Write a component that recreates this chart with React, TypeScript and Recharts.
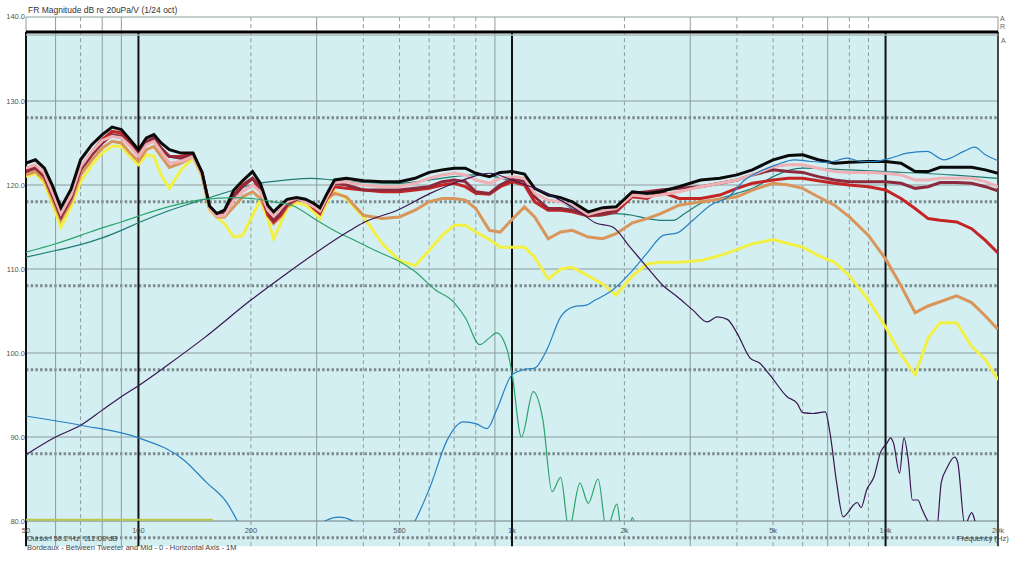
import { LineChart, Line, XAxis, YAxis, ReferenceLine, ReferenceArea } from 'recharts';

// frequency grid shared by the smoothed (1/24 oct) off-axis curves
const bundleFreq = [
  50, 53, 56, 59, 62, 66, 70, 75, 80, 85,
  90, 95, 100, 105, 110, 115, 121, 130, 140, 148,
  155, 162, 170, 180, 190, 202, 212, 222, 230, 240,
  250, 265, 280, 295, 306, 320, 335, 360, 400, 450,
  500, 550, 600, 650, 700, 750, 800, 870, 930, 1000,
  1080, 1150, 1250, 1350, 1450, 1600, 1750, 1900, 2100, 2300,
  2500, 2800, 3200, 3600, 4000, 4400, 5000, 5500, 6000, 6600,
  7300, 8000, 9000, 10000, 11000, 12000, 13000, 14000, 15500, 17000,
  18500, 20000,
];

const blackDb = [
  122.6, 123.0, 122.0, 119.8, 117.3, 119.5, 123.0, 124.8, 126.0, 126.9,
  126.6, 125.4, 124.2, 125.6, 126.0, 125.0, 124.2, 123.8, 123.8, 121.5,
  117.5, 116.6, 117.0, 119.4, 120.5, 121.6, 120.2, 117.6, 116.8, 117.6,
  118.3, 118.5, 118.3, 117.8, 117.3, 119.0, 120.6, 120.8, 120.5, 120.4,
  120.4, 120.8, 121.5, 121.8, 122.0, 122.0, 121.4, 121.0, 121.5, 121.6,
  121.3, 119.6, 118.8, 118.5, 118.0, 116.8, 117.3, 117.4, 119.2, 119.0,
  119.2, 119.8, 120.6, 120.8, 121.2, 121.8, 123.0, 123.5, 123.6, 123.0,
  122.6, 122.7, 122.8, 122.8, 122.6, 121.6, 121.6, 122.1, 122.1, 122.1,
  121.8, 121.4,
];

const pinkDb = [
  122.0, 122.4, 121.4, 119.0, 116.6, 118.8, 122.2, 124.0, 125.3, 125.8,
  125.6, 124.6, 123.4, 124.8, 125.2, 124.0, 122.6, 122.8, 123.4, 121.2,
  117.2, 116.3, 116.4, 118.2, 119.2, 120.0, 119.2, 117.0, 116.3, 117.2,
  118.0, 118.4, 118.0, 117.4, 116.9, 118.6, 120.3, 120.4, 120.0, 119.8,
  119.8, 120.2, 120.8, 121.2, 121.4, 121.2, 120.6, 120.2, 120.8, 121.0,
  120.8, 119.0, 118.2, 118.0, 117.5, 116.5, 117.0, 117.2, 118.8, 118.6,
  118.8, 119.2, 119.8, 120.2, 120.6, 121.2, 122.2, 122.4, 122.4, 122.0,
  121.6, 121.5, 121.5, 121.4, 121.2, 120.6, 120.6, 120.8, 120.8, 120.8,
  120.4, 119.8,
];

const maroonDb = [
  121.6, 122.0, 121.0, 118.6, 116.2, 118.4, 121.8, 123.6, 125.0, 126.0,
  125.8, 124.8, 123.6, 125.2, 125.6, 124.4, 123.4, 123.2, 123.6, 121.4,
  117.3, 116.4, 116.6, 118.6, 119.8, 120.8, 119.8, 116.8, 115.8, 116.6,
  117.8, 118.3, 118.1, 117.4, 116.8, 118.6, 120.2, 120.0, 119.4, 119.4,
  119.4, 119.6, 119.8, 120.4, 120.6, 120.4, 119.2, 119.0, 120.0, 120.7,
  120.4, 118.6, 117.2, 117.2, 117.0, 116.4, 116.6, 117.0, 119.0, 119.2,
  119.4, 119.6, 119.8, 120.2, 120.6, 121.2, 121.8, 121.6, 121.5, 121.0,
  120.6, 120.4, 120.4, 120.4, 120.2, 119.6, 119.8, 120.3, 120.3, 120.2,
  119.8, 119.3,
];

const redDb = [
  121.8, 122.2, 121.2, 118.8, 116.5, 118.6, 122.0, 123.9, 125.4, 126.4,
  126.2, 125.0, 123.8, 125.0, 125.4, 124.2, 123.4, 123.4, 123.7, 121.5,
  117.4, 116.5, 116.8, 118.8, 120.0, 120.8, 119.4, 116.4, 115.6, 116.4,
  117.6, 118.4, 118.2, 117.2, 116.6, 118.4, 119.8, 119.6, 119.4, 119.2,
  119.2, 119.4, 119.6, 120.0, 120.2, 119.8, 119.0, 118.9, 119.8, 120.4,
  120.0, 118.0, 117.0, 117.0, 116.8, 116.3, 116.5, 116.8, 118.6, 118.4,
  119.2, 118.4, 118.4, 118.8, 119.6, 120.2, 120.6, 120.8, 120.8, 120.5,
  120.2, 120.0, 119.8, 119.4, 118.4, 117.2, 116.0, 115.8, 115.6, 114.8,
  113.4, 111.9,
];

const tanDb = [
  121.2, 121.6, 120.6, 118.2, 115.8, 118.0, 121.2, 123.0, 124.4, 125.2,
  125.0, 123.8, 122.8, 124.2, 124.6, 123.4, 122.1, 122.6, 123.4, 121.2,
  117.2, 116.2, 116.2, 117.4, 118.6, 119.2, 118.4, 116.6, 115.4, 116.2,
  117.4, 118.2, 118.2, 117.6, 117.0, 118.4, 119.0, 118.6, 116.4, 116.0,
  116.2, 117.0, 118.0, 118.4, 118.4, 118.2, 117.2, 114.6, 114.4, 115.9,
  117.4, 116.2, 113.6, 114.4, 114.6, 113.8, 113.6, 114.2, 115.5, 116.0,
  116.6, 117.6, 118.0, 118.3, 118.6, 119.4, 120.2, 120.0, 119.6, 118.6,
  117.6, 116.2, 114.0, 111.2, 108.0, 104.8, 105.6, 106.1, 106.8, 106.0,
  104.4, 102.8,
];

const yellowDb = [
  121.0, 121.4, 120.2, 117.6, 115.0, 117.4, 120.4, 122.4, 123.8, 124.6,
  124.6, 123.4, 122.4, 123.6, 123.4, 121.2, 119.6, 121.8, 123.2, 121.0,
  117.0, 116.2, 115.4, 113.8, 114.0, 116.4, 118.2, 116.0, 113.6, 115.4,
  117.2, 117.9, 117.6, 116.8, 116.0, 118.0, 119.2, 118.4, 116.2, 113.0,
  111.0, 110.4, 112.2, 114.0, 115.2, 115.2, 114.4, 113.5, 112.6, 112.6,
  112.6, 111.4, 108.8, 110.0, 110.2, 109.2, 108.2, 106.9, 109.2, 110.6,
  110.8, 110.8, 111.0, 111.6, 112.3, 113.0, 113.5, 113.0, 112.6, 111.6,
  110.8, 109.2, 106.3, 103.1, 99.8, 97.4, 101.8, 103.6, 103.6, 100.8,
  99.2, 96.8,
];

// summed response (teal)
const sumFreq = [
  50, 60, 70, 80, 90, 100, 120, 150, 180, 200, 250, 290, 330, 400, 500, 600, 700, 800, 900, 1000,
  1100, 1200, 1300, 1400, 1550, 1700, 1900, 2100, 2300, 2500, 2700, 2900, 3200, 3600, 4000, 4500,
  5000, 6000, 8000, 10000, 15000, 20000,
];
const sumDb = [
  111.4, 112.2, 112.9, 113.7, 114.6, 115.5, 116.9, 118.3, 119.4, 120.0, 120.6, 120.8, 120.6, 120.3,
  120.2, 120.6, 121.0, 121.2, 121.0, 120.4, 119.8, 119.3, 118.6, 117.6, 116.5, 116.3, 116.6, 116.4,
  116.0, 115.8, 115.8, 116.6, 117.8, 118.4, 119.0, 119.8, 121.0, 122.0, 121.8, 121.6, 121.2, 120.8,
];

// mid driver (green)
const midFreq = [
  50, 60, 70, 80, 90, 100, 120, 150, 180, 200, 230, 260, 300, 340, 380, 430, 500, 550, 620, 700,
  750, 820, 870, 909, 970, 1000, 1060, 1140, 1210, 1280, 1350, 1420, 1520, 1600, 1700, 1790, 1910,
  1960, 2040, 2100, 2160, 2400,
];
const midDb = [
  112.0, 113.0, 114.0, 114.9, 115.6, 116.3, 117.4, 118.3, 118.5, 118.4, 118.0, 117.5, 115.8, 114.4,
  113.4, 112.2, 110.9, 109.7, 107.6, 106.0, 104.2, 101.0, 101.8, 102.4, 100.4, 97.6, 90.0, 95.4,
  92.0, 83.5, 85.2, 79.0, 84.5, 82.1, 85.0, 79.0, 82.0, 79.0, 78.5, 80.4, 78.5, 75.0,
];

// woofer (purple)
const wooferFreq = [
  50, 60, 70, 80, 90, 100, 120, 150, 200, 250, 300, 369, 400, 493, 604, 740, 873, 1000, 1240, 1520,
  1670, 1860, 2070, 2300, 2540, 2770, 3050, 3330, 3540, 3770, 4000, 4340, 4600, 4900, 5450, 5800,
  6000, 6400, 6900, 7100, 7400, 7700, 7900, 8200, 8400, 8600, 8900, 9300, 9700, 10100, 10300, 10500,
  10900, 11200, 11500, 11800, 12200, 12500, 12900, 13700, 14100, 14600, 15300, 15600, 16300, 17000,
  17200, 17800,
];
const wooferDb = [
  87.9, 90.0, 91.4, 93.2, 94.8, 96.1, 98.6, 101.8, 106.3, 109.5, 112.0, 114.6, 115.5, 117.0, 119.0,
  120.6, 121.4, 120.6, 119.0, 116.8, 115.5, 115.0, 112.6, 110.2, 108.0, 106.7, 105.1, 103.7, 104.3,
  104.0, 102.4, 99.4, 98.8, 97.4, 94.8, 94.0, 92.9, 92.8, 93.0, 90.5, 84.5, 80.5, 80.9, 81.9, 82.2,
  81.6, 83.7, 85.2, 88.2, 89.3, 89.9, 89.3, 85.7, 89.9, 87.3, 82.5, 82.5, 81.5, 80.2, 79.0, 84.6,
  86.3, 87.6, 87.0, 79.5, 81.0, 80.6, 77.0,
];

// tweeter (blue)
const tweeterFreq = [
  50, 70, 100, 132, 152, 173, 184, 200, 240, 290, 316, 344, 375, 410, 460, 510, 550, 603, 670, 740,
  800, 858, 909, 1000, 1070, 1150, 1240, 1350, 1460, 1580, 1670, 1860, 2070, 2300, 2540, 2770, 3050,
  3400, 3800, 4200, 4600, 5100, 5700, 6300, 7000, 7900, 8600, 9300, 10500, 11400, 12900, 14300,
  16200, 17300, 18500, 20000,
];
const tweeterDb = [
  92.5, 91.4, 89.9, 87.3, 84.6, 82.1, 80.0, 77.0, 72.0, 77.5, 80.0, 80.45, 80.0, 77.0, 75.0, 77.5,
  80.0, 84.0, 89.6, 91.8, 91.6, 91.0, 93.2, 97.4, 98.0, 98.2, 100.4, 104.3, 105.5, 105.7, 106.3,
  107.5, 109.5, 111.9, 114.0, 114.3, 115.8, 117.6, 118.6, 120.6, 121.6, 122.4, 123.0, 122.8, 122.7,
  123.2, 122.8, 122.8, 123.3, 123.8, 124.0, 123.0, 124.0, 124.5, 123.6, 122.9,
];

const floorFreq = [50, 158];
const floorDb = [80.15, 80.15];

const xTicks = [50, 100, 200, 500, 1000, 2000, 5000, 10000, 20000];
const xTickLabels = ['50', '100', '200', '500', '1k', '2k', '5k', '10k', '20k'];
const yTicks = [80, 90, 100, 110, 120, 130, 140];
const dottedLevels = [128, 118, 108, 98, 88, 78];
const solidMinor = [60, 80, 90, 300, 900, 3000, 7000];
const dashedMinor = [70, 200, 400, 500, 600, 700, 800, 2000, 4000, 5000, 6000, 8000, 9000];
const decadeLines = [100, 1000, 10000];

const FONT = '"Liberation Sans", Arial, sans-serif';
const GRID = '#8d9c9e';

const toPoints = (freqs: number[], dbs: number[]) => freqs.map((f, i) => ({ f, v: dbs[i] }));

const XTick = ({ x, payload }: any) => {
  const i = xTicks.indexOf(payload.value);
  return (
    <text x={x} y={530} textAnchor="middle" dominantBaseline="central" fontSize={7.5} fill="#555" fontFamily={FONT}>
      {xTickLabels[i]}
    </text>
  );
};

const YTick = ({ y, payload }: any) => (
  <text x={25} y={payload.value === 140 ? y - 1 : y} textAnchor="end" dominantBaseline="central" fontSize={7.5} fill="#555" fontFamily={FONT}>
    {Number(payload.value).toFixed(1)}
  </text>
);

const bundle = [
  { name: 'yellow', db: yellowDb, color: '#f2f045' },
  { name: 'tan', db: tanDb, color: '#d9955a' },
  { name: 'red', db: redDb, color: '#c42424' },
  { name: 'maroon', db: maroonDb, color: '#8e2a3c' },
  { name: 'pink', db: pinkDb, color: '#eeb2b6' },
  { name: 'black', db: blackDb, color: '#0a0a0a' },
];

// thin curves drawn over the bundle
const thin = [
  { name: 'floor', f: floorFreq, db: floorDb, color: '#bcc84c', width: 2 },
  { name: 'mid', f: midFreq, db: midDb, color: '#2ca36c', width: 1.2 },
  { name: 'woofer', f: wooferFreq, db: wooferDb, color: '#3a1652', width: 1.2 },
  { name: 'tweeter', f: tweeterFreq, db: tweeterDb, color: '#2680c4', width: 1.2 },
];

const textStyle = { position: 'absolute' as const, fontFamily: FONT, color: '#444', whiteSpace: 'nowrap' as const };

export default function App() {
  return (
    <div style={{ position: 'fixed', left: 0, top: 0, width: 1024, height: 561, background: '#fff', overflow: 'hidden' }}>
      <LineChart width={1024} height={561} margin={{ top: 17, right: 26, bottom: 0, left: 0 }}>
        <XAxis
          dataKey="f"
          type="number"
          scale="log"
          domain={[50, 20000]}
          allowDataOverflow
          ticks={xTicks}
          interval={0}
          height={40}
          axisLine={false}
          tickLine={false}
          tick={<XTick />}
        />
        <YAxis
          type="number"
          domain={[80, 140]}
          allowDataOverflow
          ticks={yTicks}
          interval={0}
          width={26}
          axisLine={false}
          tickLine={false}
          tick={<YTick />}
        />

        <ReferenceArea x1={50} x2={20000} y1={77} y2={137.8} fill="#d3eff2" fillOpacity={1} stroke="none" ifOverflow="visible" zIndex={-300} />

        {yTicks.map((v) => (
          <ReferenceLine key={`h${v}`} y={v} stroke={v === 80 ? '#6f7d7f' : GRID} strokeWidth={1} ifOverflow="visible" zIndex={-200} />
        ))}
        {dottedLevels.map((v) => (
          <ReferenceLine key={`d${v}`} y={v} stroke="#7c8b8d" strokeWidth={3} strokeDasharray="2.5 2.2" ifOverflow="visible" zIndex={-200} />
        ))}
        {solidMinor.map((f) => (
          <ReferenceLine key={`s${f}`} segment={[{ x: f, y: 77 }, { x: f, y: 140 }]} stroke={GRID} strokeWidth={1} ifOverflow="visible" zIndex={-200} />
        ))}
        {dashedMinor.map((f) => (
          <ReferenceLine key={`m${f}`} segment={[{ x: f, y: 77 }, { x: f, y: 140 }]} stroke={GRID} strokeWidth={1} strokeDasharray="4 3" ifOverflow="visible" zIndex={-200} />
        ))}
        {decadeLines.map((f) => (
          <ReferenceLine key={`k${f}`} segment={[{ x: f, y: 77 }, { x: f, y: 138.2 }]} stroke="#111" strokeWidth={2} ifOverflow="visible" zIndex={-200} />
        ))}
        <ReferenceLine segment={[{ x: 50, y: 77 }, { x: 50, y: 138.2 }]} stroke="#111" strokeWidth={2} ifOverflow="visible" zIndex={-200} />
        <ReferenceLine segment={[{ x: 50, y: 138.2 }, { x: 50, y: 140 }]} stroke={GRID} strokeWidth={1} ifOverflow="visible" zIndex={-200} />
        <ReferenceLine segment={[{ x: 20000, y: 77 }, { x: 20000, y: 138.2 }]} stroke="#111" strokeWidth={1.5} ifOverflow="visible" zIndex={-200} />
        <ReferenceLine segment={[{ x: 20000, y: 138.2 }, { x: 20000, y: 140 }]} stroke={GRID} strokeWidth={1} ifOverflow="visible" zIndex={-200} />
        <ReferenceLine y={137.85} stroke="#9fb9bb" strokeWidth={1.5} ifOverflow="visible" zIndex={-200} />
        <ReferenceLine y={138.2} stroke="#000" strokeWidth={3} ifOverflow="visible" zIndex={-200} />

        <Line
          data={toPoints(sumFreq, sumDb)}
          dataKey="v"
          type="monotone"
          stroke="#1d7c72"
          strokeWidth={1.2}
          dot={false}
          activeDot={false}
          isAnimationActive={false}
        />
        {bundle.map((s) => (
          <Line
            key={s.name}
            data={toPoints(bundleFreq, s.db)}
            dataKey="v"
            type="linear"
            stroke={s.color}
            strokeWidth={3}
            dot={false}
            activeDot={false}
            isAnimationActive={false}
          />
        ))}
        {thin.map((s) => (
          <Line
            key={s.name}
            data={toPoints(s.f, s.db)}
            dataKey="v"
            type="monotone"
            stroke={s.color}
            strokeWidth={s.width}
            dot={false}
            activeDot={false}
            isAnimationActive={false}
          />
        ))}
      </LineChart>

      <div style={{ ...textStyle, left: 28, top: 5, fontSize: 8.5, lineHeight: '10px', color: '#333' }}>
        FR Magnitude dB re 20uPa/V (1/24 oct)
      </div>
      <div style={{ ...textStyle, left: 1000, top: 15, fontSize: 7, lineHeight: '7px', color: '#666' }}>A</div>
      <div style={{ ...textStyle, left: 1000, top: 23, fontSize: 7, lineHeight: '7px', color: '#666' }}>R</div>
      <div style={{ ...textStyle, left: 1001, top: 37, fontSize: 7, lineHeight: '7px', color: '#666' }}>A</div>
      <div style={{ ...textStyle, left: 27, top: 534, fontSize: 7.5, lineHeight: '9px' }}>Cursor: 50.2 Hz, 112.08 dB</div>
      <div style={{ ...textStyle, left: 27, top: 543, fontSize: 7.5, lineHeight: '9px' }}>
        Bordeaux - Between Tweeter and Mid - 0 - Horizontal Axis - 1M
      </div>
      <div style={{ ...textStyle, left: 957, top: 534, fontSize: 7.5, lineHeight: '9px' }}>Frequency (Hz)</div>
    </div>
  );
}
